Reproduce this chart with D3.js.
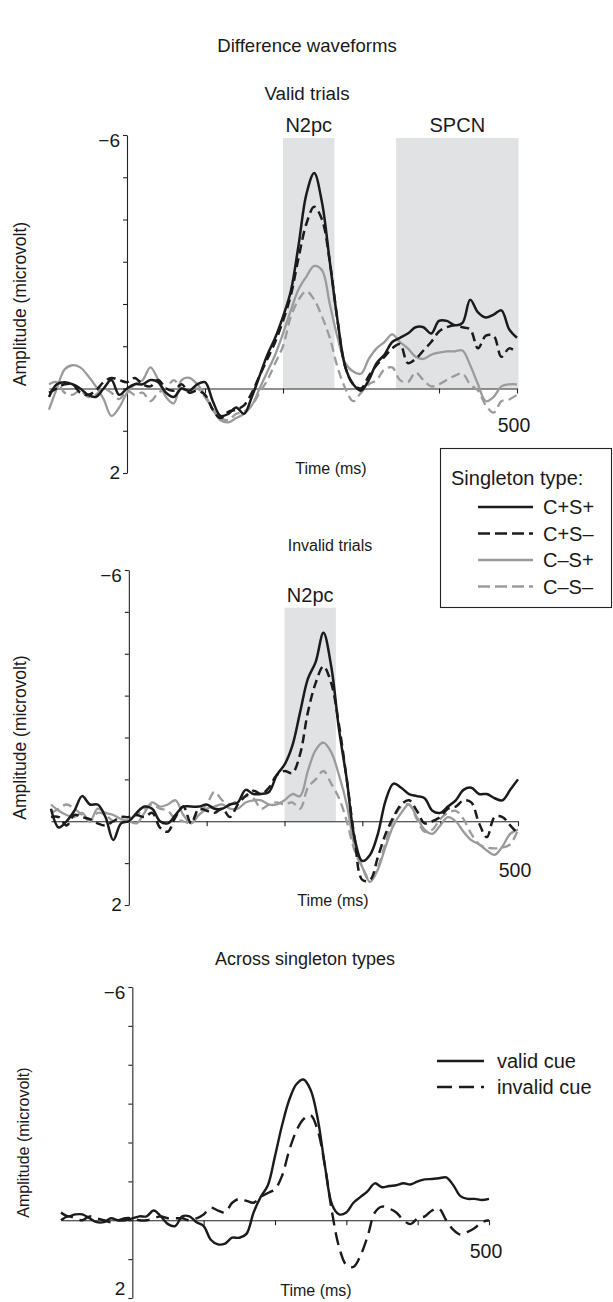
<!DOCTYPE html>
<html>
<head>
<meta charset="utf-8">
<script src="https://cdn.jsdelivr.net/npm/d3@7"></script>
<style>
  body { margin: 0; background: #fff; }
  text { font-family: "Liberation Sans", Arial, sans-serif; fill: #1a1a1a; }
</style>
</head>
<body>
<script>
// sample times (ms), 10 ms steps
var times = d3.range(-100, 501, 10);

// valid trials, difference waves (microvolt, negative = up)
var validCSp = [0.2, -0.1, -0.15, -0.1, 0.0, 0.15, 0.2, 0.0, -0.2, 0.15,
  0.0, -0.1, -0.1, -0.2, -0.15, 0.1, 0.2, 0.0, 0.05, -0.1,
  -0.15, 0.3, 0.65, 0.6, 0.45, 0.6, 0.2, -0.3, -0.8, -1.2,
  -1.7, -2.3, -3.4, -4.6, -5.1, -4.4, -3.0, -1.6, -0.5, -0.1,
  0.05, -0.2, -0.6, -0.8, -1.1, -1.2, -1.3, -1.45, -1.45, -1.3,
  -1.6, -1.6, -1.5, -1.55, -2.1, -1.8, -1.68, -1.75, -1.85, -1.4,
  -1.2];
var validCSm = [0.1, 0.0, -0.1, -0.1, 0.1, 0.15, 0.05, -0.15, -0.25, -0.2,
  -0.15, -0.25, -0.1, -0.05, -0.2, 0.0, 0.05, -0.1, 0.1, 0.05,
  0.15, 0.5, 0.7, 0.55, 0.5, 0.4, 0.1, -0.3, -0.7, -1.1,
  -1.6, -2.2, -3.1, -3.9, -4.3, -4.0, -3.0, -1.6, -0.5, -0.1,
  0.0, -0.3, -0.55, -0.75, -0.95, -1.05, -0.6, -0.7, -0.9, -1.1,
  -1.35, -1.45, -1.5, -1.45, -1.4, -0.95, -1.25, -1.25, -0.75, -0.95,
  -0.85];
var validCmSp = [0.5, 0.0, -0.45, -0.55, -0.5, -0.3, -0.05, 0.25, 0.65, 0.45,
  0.1, -0.1, -0.2, -0.5, -0.2, 0.2, 0.35, -0.2, -0.25, -0.1,
  0.15, 0.5, 0.75, 0.8, 0.7, 0.6, 0.4, 0.0, -0.4, -0.8,
  -1.3, -1.85, -2.35, -2.65, -2.9, -2.8, -2.0, -1.2, -0.6, -0.4,
  -0.35, -0.7, -0.95, -1.1, -1.28, -1.1, -0.95, -0.75, -0.7, -0.8,
  -0.85, -0.88, -0.88, -0.9, -0.55, -0.1, 0.3, 0.2, -0.05, -0.1,
  -0.1];
var validCmSm = [-0.1, -0.15, 0.1, 0.15, 0.05, 0.2, 0.15, 0.0, 0.1, 0.25,
  0.05, 0.15, 0.1, 0.3, 0.1, 0.0, -0.2, 0.0, 0.05, 0.0,
  0.2, 0.5, 0.7, 0.75, 0.6, 0.55, 0.4, 0.1, -0.2, -0.6,
  -1.0, -1.7, -2.1, -2.3, -2.1, -1.7, -1.2, -0.5, 0.0, 0.3,
  0.1, -0.1, -0.2, -0.45, -0.5, -0.2, -0.15, -0.38, -0.2, -0.05,
  -0.1, -0.2, -0.3, -0.35, -0.1, 0.05, 0.4, 0.57, 0.3, 0.26,
  0.15];

// invalid trials
var invalidCSp = [-0.3, 0.15, 0.0, -0.25, -0.6, -0.4, -0.4, -0.1, 0.45, 0.05,
  0.0, -0.2, -0.35, -0.3, 0.0, 0.05, -0.15, -0.35, -0.35, -0.35,
  -0.4, -0.3, -0.3, -0.4, -0.45, -0.75, -0.65, -0.65, -0.7, -1.1,
  -1.35, -1.8, -2.6, -3.4, -3.8, -4.5, -3.7, -2.2, -1.0, 0.4,
  0.95, 0.8, 0.3, -0.5, -0.9, -0.8, -0.65, -0.6, -0.55, -0.25,
  -0.2, -0.35, -0.5, -0.75, -0.8, -0.65, -0.65, -0.55, -0.5, -0.75,
  -1.0];
var invalidCSm = [-0.1, -0.1, 0.1, -0.15, -0.1, -0.05, 0.05, 0.1, 0.0, -0.1,
  -0.1, -0.15, -0.1, -0.2, 0.15, 0.25, -0.1, -0.35, 0.05, -0.3,
  -0.25, -0.2, -0.3, -0.1, -0.4, -0.6, -0.73, -0.65, -0.8, -1.1,
  -1.2, -1.15, -1.6, -2.6, -3.3, -3.7, -3.3, -2.3, -1.0, 0.4,
  1.4, 1.4, 0.85, 0.3, -0.1, -0.4, -0.5, -0.25, 0.05, 0.0,
  -0.1, -0.3, -0.35, -0.5, -0.45, 0.05, 0.38, -0.1, -0.1, 0.1,
  0.3];
var invalidCmSp = [-0.4, -0.25, -0.15, -0.1, -0.2, 0.0, -0.3, -0.2, -0.15, -0.05,
  0.0, 0.05, -0.2, -0.45, -0.35, -0.4, -0.5, -0.15, 0.05, -0.15,
  -0.3, -0.35, -0.4, -0.3, -0.3, -0.45, -0.5, -0.5, -0.4, -0.4,
  -0.5, -0.65, -0.6, -1.2, -1.7, -1.88, -1.65, -1.1, -0.4, 0.6,
  1.1, 1.45, 1.15, 0.6, 0.1, -0.2, -0.4, -0.1, 0.2, 0.3,
  0.1, -0.1, 0.0, 0.25, 0.45, 0.55, 0.7, 0.8, 0.6, 0.3,
  0.2];
var invalidCmSm = [-0.2, -0.3, -0.4, -0.3, -0.15, 0.0, -0.2, -0.15, 0.0, 0.05,
  -0.05, -0.15, -0.3, -0.4, -0.3, -0.25, -0.05, 0.0, 0.05, -0.2,
  -0.4, -0.7, -0.5, -0.4, -0.5, -0.6, -0.55, -0.3, -0.4, -0.45,
  -0.4, -0.45, -0.3, -0.8, -1.0, -1.2, -0.9, -0.55, 0.0, 0.7,
  1.1, 1.4, 1.1, 0.5, -0.05, -0.35, -0.4, -0.05, 0.25, 0.2,
  -0.05, -0.2, -0.25, -0.05, 0.3, 0.55, 0.63, 0.65, 0.63, 0.55,
  0.2];

// across singleton types
var validCue = [-0.2, -0.1, -0.15, -0.15, -0.05, 0.05, 0.05, -0.05, 0.0, 0.0,
  -0.05, -0.1, -0.1, -0.25, -0.1, 0.1, 0.15, -0.1, -0.1, 0.05,
  0.15, 0.5, 0.62, 0.6, 0.45, 0.45, 0.35, -0.2, -0.6, -0.9,
  -1.65, -2.45, -3.1, -3.5, -3.62, -3.35, -2.6, -1.4, -0.4, -0.15,
  -0.2, -0.45, -0.6, -0.75, -0.95, -0.85, -0.88, -0.9, -0.95, -0.92,
  -1.0, -1.05, -1.06, -1.08, -1.1, -0.9, -0.62, -0.55, -0.55, -0.52,
  -0.55];
var invalidCue = [0.0, -0.1, -0.05, 0.0, -0.1, -0.05, 0.0, 0.05, 0.0, -0.05,
  -0.05, 0.0, 0.0, -0.05, -0.1, -0.05, -0.05, -0.05, 0.0, -0.05,
  -0.15, -0.32, -0.25, -0.2, -0.45, -0.55, -0.5, -0.45, -0.6, -0.7,
  -0.8, -1.15, -1.8, -2.3, -2.6, -2.7, -2.3, -1.4, -0.2, 0.7,
  1.15, 1.2, 0.9, 0.4, -0.2, -0.35, -0.3, -0.2, 0.0, 0.1,
  -0.05, -0.1, -0.25, -0.3, 0.0, 0.25, 0.37, 0.3, 0.2, 0.05,
  0.0];

var singletonTypes = ["C+S+", "C+S\u2013", "C\u2013S+", "C\u2013S\u2013"];
var cueTypes = ["valid cue", "invalid cue"];
var yTickValues = d3.range(-6, 3, 1);
var xTickValues = [100, 200, 300, 400, 500];

var BLACK = "#1b1b1b", GRAY = "#9b9b9b";
var styles = {
  "C+S+": {color: BLACK, dash: null, width: 2.5},
  "C+S\u2013": {color: BLACK, dash: "9,5", width: 2.5},
  "C\u2013S+": {color: GRAY, dash: null, width: 2.3},
  "C\u2013S\u2013": {color: GRAY, dash: "9,5", width: 2.3},
  "valid cue": {color: BLACK, dash: null, width: 2.4},
  "invalid cue": {color: BLACK, dash: "13,7", width: 2.4}
};

var svg = d3.select("body").append("svg")
    .attr("width", 613)
    .attr("height", 1302);

// titles
svg.append("text").attr("x", 307).attr("y", 52)
    .attr("text-anchor", "middle").style("font-size", "18.6px")
    .text("Difference waveforms");
svg.append("text").attr("x", 307).attr("y", 100)
    .attr("text-anchor", "middle").style("font-size", "18.8px")
    .text("Valid trials");

function panel(opt) {
  var x = d3.scaleLinear().domain([-100, 500]).range(opt.xRange);
  var y = d3.scaleLinear().domain([-6, 2]).range(opt.yRange);
  var g = svg.append("g");

  // shaded windows
  opt.windows.forEach(function(w) {
    g.append("rect")
      .attr("x", x(w.from)).attr("width", x(w.to) - x(w.from))
      .attr("y", y(w.top)).attr("height", y(0) - y(w.top))
      .attr("fill", "#e1e2e4");
    g.append("text")
      .attr("x", (x(w.from) + x(w.to)) / 2).attr("y", y(w.top) - 6)
      .attr("text-anchor", "middle").style("font-size", "20px")
      .text(w.label);
  });

  // y axis
  var yAxis = g.append("g")
      .attr("transform", "translate(" + x(0) + ",0)")
      .call(d3.axisLeft(y).tickValues(yTickValues).tickSize(4).tickSizeOuter(0).tickFormat(""));
  yAxis.selectAll("path, line").attr("stroke", "#222").attr("stroke-width", 1.1);

  g.append("text").attr("x", x(0) - 7).attr("y", y(-6) + 12)
      .attr("text-anchor", "end").style("font-size", "19px").text("\u22126");
  g.append("text").attr("x", x(0) - 7).attr("y", Math.min(y(2) + 6, 1295))
      .attr("text-anchor", "end").style("font-size", "19px").text("2");

  // x axis along zero line
  var xAxis = g.append("g")
      .attr("transform", "translate(0," + y(0) + ")")
      .call(d3.axisBottom(x).tickValues(xTickValues).tickSize(5).tickSizeOuter(0).tickFormat(""));
  xAxis.selectAll("path, line").attr("stroke", "#222").attr("stroke-width", 1.1);

  g.append("text").attr("x", x(500) - 3).attr("y", y(0) + opt.fiveHundredDy)
      .attr("text-anchor", "middle").style("font-size", "19.5px").text("500");

  g.append("text").attr("x", opt.timeLabel[0]).attr("y", opt.timeLabel[1])
      .attr("text-anchor", "middle").style("font-size", "16px").text("Time (ms)");

  g.append("text")
      .attr("transform", "translate(" + opt.ampX + "," + ((opt.yRange[0] + opt.yRange[1]) / 2) + ") rotate(-90)")
      .attr("text-anchor", "middle").style("font-size", opt.ampSize)
      .text("Amplitude (microvolt)");

  var line = d3.line()
      .x(function(d, i) { return x(times[i]); })
      .y(function(d) { return y(d); })
      .curve(d3.curveCatmullRom.alpha(0.5));

  opt.series.forEach(function(s) {
    var st = styles[s.name];
    g.append("path")
      .datum(s.values)
      .attr("d", line)
      .attr("fill", "none")
      .attr("stroke", st.color)
      .attr("stroke-width", st.width)
      .attr("stroke-dasharray", st.dash)
      .attr("stroke-linejoin", "round");
  });
}

panel({
  xRange: [49, 517], yRange: [135, 473],
  windows: [{from: 200, to: 266, top: -5.93, label: "N2pc"},
            {from: 345, to: 502, top: -5.93, label: "SPCN"}],
  series: [{name: singletonTypes[3], values: validCmSm},
           {name: singletonTypes[2], values: validCmSp},
           {name: singletonTypes[1], values: validCSm},
           {name: singletonTypes[0], values: validCSp}],
  fiveHundredDy: 43, timeLabel: [331, 474], ampX: 26, ampSize: "17.5px"
});

svg.append("text").attr("x", 330).attr("y", 551)
    .attr("text-anchor", "middle").style("font-size", "16px")
    .text("Invalid trials");

panel({
  xRange: [51, 518], yRange: [570, 905],
  windows: [{from: 200, to: 266, top: -5.1, label: "N2pc"}],
  series: [{name: singletonTypes[3], values: invalidCmSm},
           {name: singletonTypes[2], values: invalidCmSp},
           {name: singletonTypes[1], values: invalidCSm},
           {name: singletonTypes[0], values: invalidCSp}],
  fiveHundredDy: 56, timeLabel: [333, 906], ampX: 26, ampSize: "17.5px"
});

svg.append("text").attr("x", 305).attr("y", 965)
    .attr("text-anchor", "middle").style("font-size", "18px")
    .text("Across singleton types");

panel({
  xRange: [61, 489], yRange: [987, 1298],
  windows: [],
  series: [{name: cueTypes[1], values: invalidCue},
           {name: cueTypes[0], values: validCue}],
  fiveHundredDy: 38, timeLabel: [316, 1296], ampX: 29, ampSize: "16px"
});

// legend: singleton types
var leg = svg.append("g");
leg.append("rect").attr("x", 440.5).attr("y", 448.5).attr("width", 171).attr("height", 159)
    .attr("fill", "#fff").attr("stroke", "#222").attr("stroke-width", 1.1);
leg.append("text").attr("x", 451).attr("y", 485).style("font-size", "20px").text("Singleton type:");
singletonTypes.forEach(function(name, i) {
  var st = styles[name];
  var yy = 507 + i * 26.5;
  leg.append("line").attr("x1", 478).attr("x2", 533).attr("y1", yy).attr("y2", yy)
     .attr("stroke", st.color).attr("stroke-width", st.width)
     .attr("stroke-dasharray", st.dash ? "12,5" : null);
  leg.append("text").attr("x", 543).attr("y", yy + 7).style("font-size", "20px").text(name);
});

// legend: cue types
cueTypes.forEach(function(name, i) {
  var st = styles[name];
  var yy = 1061 + i * 26;
  svg.append("line").attr("x1", 437).attr("x2", 484).attr("y1", yy).attr("y2", yy)
     .attr("stroke", st.color).attr("stroke-width", st.width)
     .attr("stroke-dasharray", st.dash ? "15,7" : null);
  svg.append("text").attr("x", 497).attr("y", yy + 7).style("font-size", "20px").text(name);
});
</script>
</body>
</html>
